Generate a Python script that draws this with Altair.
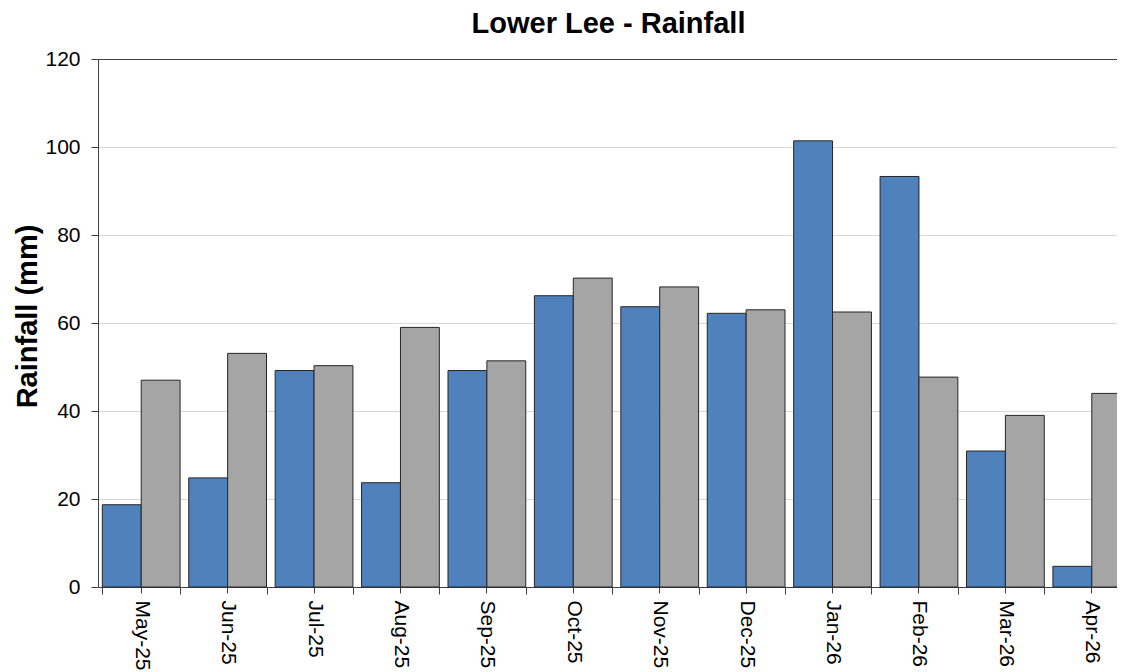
import altair as alt
import pandas as pd

months = ["May-25", "Jun-25", "Jul-25", "Aug-25", "Sep-25", "Oct-25",
          "Nov-25", "Dec-25", "Jan-26", "Feb-26", "Mar-26", "Apr-26"]
actual = [18.7, 24.8, 49.2, 23.7, 49.2, 66.2, 63.7, 62.2, 101.4, 93.3, 30.9, 4.7]
average = [47.0, 53.1, 50.3, 59.0, 51.4, 70.2, 68.2, 63.0, 62.5, 47.7, 39.0, 44.0]
series = ["Rainfall", "Long Term Average"]
colors = ["#4F81BD", "#A5A5A5"]
y_ticks = [0, 20, 40, 60, 80, 100, 120]

rows = []
for m, a, b in zip(months, actual, average):
    rows.append({"month": m, "series": series[0], "value": a})
    rows.append({"month": m, "series": series[1], "value": b})
df = pd.DataFrame(rows)

FONT = "Liberation Sans"
PLOT_W = 1019      # visible plot width (the reference crops its right edge)
X_RANGE = 1037     # full category range, partly beyond the visible edge
PLOT_H = 528

x_scale = alt.Scale(paddingInner=0.1, paddingOuter=0.05, range=[0, X_RANGE])

bars = alt.Chart(df).mark_bar(
    stroke="#262626", strokeWidth=1
).encode(
    x=alt.X(
        "month:N", sort=months, title=None, scale=x_scale,
        axis=alt.Axis(
            orient="bottom",
            labelAngle=90, labelFontSize=21, labelFont=FONT, labelColor="#000000",
            tickBand="extent", tickSize=7, tickColor="#404040",
            domainColor="#404040", labelPadding=6, grid=False,
        ),
    ),
    xOffset=alt.XOffset("series:N", sort=series, scale=alt.Scale(paddingInner=0, paddingOuter=0)),
    y=alt.Y(
        "value:Q", title="Rainfall (mm)",
        scale=alt.Scale(domain=[0, 120], nice=False),
        axis=alt.Axis(
            values=y_ticks, labelFontSize=21, labelFont=FONT, labelColor="#000000",
            titleFontSize=29, titleFont=FONT, titleFontWeight="bold", titleColor="#000000",
            titlePadding=2, titleY=257, tickSize=7, tickColor="#404040", domainColor="#404040",
            labelPadding=11,
            gridColor=alt.condition("datum.value === 120", alt.value("#404040"), alt.value("#D9D9D9")),
        ),
    ),
    color=alt.Color("series:N", sort=series,
                    scale=alt.Scale(domain=series, range=colors), legend=None),
)

center_ticks = alt.Chart(df).mark_bar(opacity=0).encode(
    x=alt.X(
        "month:N", sort=months, title=None, scale=x_scale,
        axis=alt.Axis(
            orient="bottom", labels=False, domain=False, grid=False,
            tickSize=6, tickColor="#404040",
        ),
    ),
)

chart = alt.layer(bars, center_ticks).resolve_axis(
    x="independent"
).properties(
    width=PLOT_W,
    height=PLOT_H,
    title=alt.TitleParams(
        "Lower Lee - Rainfall", font=FONT, fontSize=29, fontWeight="bold",
        color="#000000", offset=9, dx=1,
    ),
    autosize=alt.AutoSizeParams(type="none"),
    padding={"left": 90, "top": 51, "right": 0, "bottom": 85},
).configure_view(
    stroke=None
)

chart.save("out.html", embed_options={"renderer": "svg", "actions": False})
